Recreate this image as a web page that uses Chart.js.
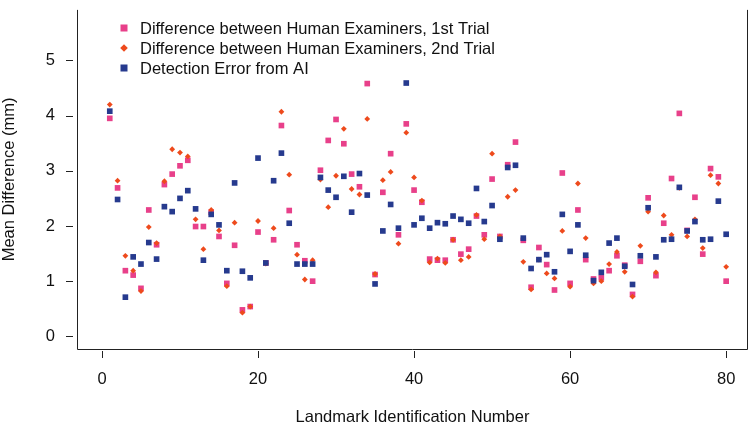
<!DOCTYPE html>
<html>
<head>
<meta charset="utf-8">
<script src="https://cdn.jsdelivr.net/npm/chart.js@4.4.1/dist/chart.umd.min.js"></script>
<style>
  html, body { margin: 0; padding: 0; background: #fff; }
  #wrap { width: 752px; height: 426px; }
</style>
</head>
<body>
<div id="wrap"><canvas id="diffChart" width="752" height="426"></canvas></div>
<script>
// Landmark numbers 1..80
const landmarks = [
  1, 2, 3, 4, 5, 6, 7, 8, 9, 10, 11, 12, 13, 14, 15, 16, 17, 18, 19, 20,
  21, 22, 23, 24, 25, 26, 27, 28, 29, 30, 31, 32, 33, 34, 35, 36, 37, 38, 39, 40,
  41, 42, 43, 44, 45, 46, 47, 48, 49, 50, 51, 52, 53, 54, 55, 56, 57, 58, 59, 60,
  61, 62, 63, 64, 65, 66, 67, 68, 69, 70, 71, 72, 73, 74, 75, 76, 77, 78, 79, 80
];

// Difference between human examiners, 1st trial (mm)
const trial1 = [
  3.95, 2.69, 1.19, 1.11, 0.87, 2.29, 1.66, 2.75, 2.94, 3.09,
  3.19, 1.99, 1.99, 2.25, 1.81, 0.96, 1.65, 0.48, 0.54, 1.89,
  1.33, 1.75, 3.82, 2.28, 1.66, 1.37, 1.00, 3.01, 3.55, 3.93,
  3.49, 2.94, 2.71, 4.58, 1.12, 2.61, 3.31, 1.84, 3.85, 2.65,
  2.43, 1.40, 1.38, 1.38, 1.75, 1.49, 1.58, 2.18, 1.84, 2.85,
  1.81, 3.11, 3.52, 1.74, 0.89, 1.61, 1.30, 0.84, 2.96, 0.96,
  2.29, 1.39, 1.04, 1.06, 1.19, 1.46, 1.29, 0.76, 1.36, 2.51,
  1.10, 2.05, 2.86, 4.04, 1.92, 2.52, 1.49, 3.04, 2.89, 1.00
];

// Difference between human examiners, 2nd trial (mm)
const trial2 = [
  4.20, 2.82, 1.46, 1.19, 0.82, 1.98, 1.69, 2.81, 3.39, 3.33,
  3.26, 2.12, 1.58, 2.29, 1.92, 0.91, 2.06, 0.43, 0.54, 2.09,
  1.32, 1.96, 4.07, 2.93, 1.48, 1.03, 1.38, 2.84, 2.34, 2.91,
  3.76, 2.67, 2.57, 3.94, 1.13, 2.83, 2.98, 1.68, 3.69, 2.88,
  2.46, 1.34, 1.41, 1.33, 1.75, 1.38, 1.44, 2.20, 1.76, 3.31,
  1.81, 2.53, 2.65, 1.35, 0.85, 1.39, 1.14, 1.05, 1.91, 0.90,
  2.77, 1.78, 0.96, 1.00, 1.31, 1.53, 1.17, 0.72, 1.64, 2.26,
  1.16, 2.19, 1.84, 2.69, 1.81, 2.12, 1.60, 2.92, 2.77, 1.26
];

// Detection error from AI (mm)
const aiError = [
  4.08, 2.48, 0.71, 1.44, 1.31, 1.70, 1.40, 2.35, 2.26, 2.50,
  2.64, 2.31, 1.38, 2.21, 2.02, 1.19, 2.78, 1.18, 1.06, 3.23,
  1.33, 2.82, 3.32, 2.05, 1.31, 1.31, 1.31, 2.88, 2.65, 2.52,
  2.90, 2.25, 2.95, 2.56, 0.95, 1.91, 2.39, 1.96, 4.59, 2.02,
  2.14, 1.96, 2.06, 2.04, 2.18, 2.12, 2.05, 2.68, 2.08, 2.37,
  1.76, 3.06, 3.10, 1.78, 1.23, 1.39, 1.48, 1.17, 2.21, 1.54,
  2.02, 1.47, 1.01, 1.16, 1.69, 1.78, 1.27, 0.94, 1.46, 2.33,
  1.44, 1.75, 1.76, 2.70, 1.91, 2.08, 1.75, 1.76, 2.45, 1.85
];

const seriesLabels = [
  'Difference between Human Examiners, 1st Trial',
  'Difference between Human Examiners, 2nd Trial',
  'Detection Error from AI'
];

const xTicks = [0, 20, 40, 60, 80];
const yTicks = [0, 1, 2, 3, 4, 5];

const PINK = '#E8408A';
const ORANGE = '#EE4A1C';
const BLUE = '#263A8E';
const FONT = "'Liberation Sans', Arial, sans-serif";
const FONT_SIZE = 16.5;

function toPoints(values) {
  return landmarks.map((n, i) => ({ x: n, y: values[i] }));
}

// plot frame (top edge is cut off in the original), R-style ticks and the legend
const frame = {
  id: 'frame',
  afterDraw(chart) {
    const { ctx, chartArea: a, scales } = chart;
    ctx.save();
    ctx.strokeStyle = '#222';
    ctx.lineWidth = 1;
    ctx.beginPath();
    ctx.moveTo(a.left + 0.5, a.top);
    ctx.lineTo(a.left + 0.5, a.bottom + 0.5);
    ctx.lineTo(a.right - 0.5, a.bottom + 0.5);
    ctx.lineTo(a.right - 0.5, a.top);
    ctx.stroke();

    ctx.beginPath();
    xTicks.forEach(v => {
      const px = Math.round(scales.x.getPixelForValue(v)) + 0.5;
      ctx.moveTo(px, a.bottom + 2);
      ctx.lineTo(px, a.bottom + 9);
    });
    yTicks.forEach(v => {
      const py = Math.round(scales.y.getPixelForValue(v)) + 0.5;
      ctx.moveTo(a.left - 11, py);
      ctx.lineTo(a.left - 4, py);
    });
    ctx.stroke();

    // legend
    const colors = [PINK, ORANGE, BLUE];
    const markerX = 124, textX = 140;
    ctx.font = FONT_SIZE + 'px ' + FONT;
    ctx.textBaseline = 'middle';
    seriesLabels.forEach((label, i) => {
      const y = 28 + i * 20;
      ctx.fillStyle = colors[i];
      if (i === 1) {
        ctx.beginPath();
        ctx.moveTo(markerX, y - 3.8);
        ctx.lineTo(markerX + 3.8, y);
        ctx.lineTo(markerX, y + 3.8);
        ctx.lineTo(markerX - 3.8, y);
        ctx.closePath();
        ctx.fill();
      } else {
        ctx.fillRect(markerX - 3.5, y - 3.5, 7, 7);
      }
      ctx.fillStyle = '#111';
      ctx.fillText(label, textX, y + 1);
    });
    ctx.restore();
  }
};

const ctx = document.getElementById('diffChart').getContext('2d');
const diffChart = new Chart(ctx, {
  type: 'scatter',
  data: {
    datasets: [
      {
        label: seriesLabels[0],
        data: toPoints(trial1),
        pointStyle: 'rect',
        pointRadius: 4,
        borderWidth: 0,
        backgroundColor: PINK,
        borderColor: PINK,
        order: 3
      },
      {
        label: seriesLabels[1],
        data: toPoints(trial2),
        pointStyle: 'rectRot',
        pointRadius: 2.9,
        borderWidth: 0,
        backgroundColor: ORANGE,
        borderColor: ORANGE,
        order: 2
      },
      {
        label: seriesLabels[2],
        data: toPoints(aiError),
        pointStyle: 'rect',
        pointRadius: 4,
        borderWidth: 0,
        backgroundColor: BLUE,
        borderColor: BLUE,
        order: 1
      }
    ]
  },
  options: {
    responsive: false,
    animation: false,
    events: [],
    layout: { padding: { top: 0, right: 4, left: 0, bottom: 0 } },
    plugins: {
      legend: { display: false },
      tooltip: { enabled: false }
    },
    scales: {
      x: {
        type: 'linear',
        min: -3.2,
        max: 82.8,
        afterFit: s => { s.height = 77; },
        afterBuildTicks: s => { s.ticks = xTicks.map(v => ({ value: v })); },
        // invisible tick marks only push the labels down; real marks are drawn by the frame plugin
        grid: { drawOnChartArea: false, drawTicks: true, tickLength: 21, tickColor: 'rgba(0,0,0,0)' },
        border: { display: false },
        ticks: { color: '#111', padding: 0, maxRotation: 0, font: { family: FONT, size: FONT_SIZE } },
        title: {
          display: true,
          text: 'Landmark Identification Number',
          color: '#111',
          padding: 0,
          font: { family: FONT, size: FONT_SIZE, lineHeight: 1.0 }
        }
      },
      y: {
        type: 'linear',
        min: -0.229,
        max: 5.915,
        afterFit: s => { s.width = 77; },
        afterBuildTicks: s => { s.ticks = yTicks.map(v => ({ value: v })); },
        grid: { drawOnChartArea: false, drawTicks: true, tickLength: 22, tickColor: 'rgba(0,0,0,0)' },
        border: { display: false },
        ticks: { color: '#111', padding: 0, font: { family: FONT, size: FONT_SIZE } },
        title: {
          display: true,
          text: 'Mean Difference (mm)',
          color: '#111',
          padding: 0,
          font: { family: FONT, size: FONT_SIZE, lineHeight: 1.1 }
        }
      }
    }
  },
  plugins: [frame]
});
</script>
</body>
</html>
